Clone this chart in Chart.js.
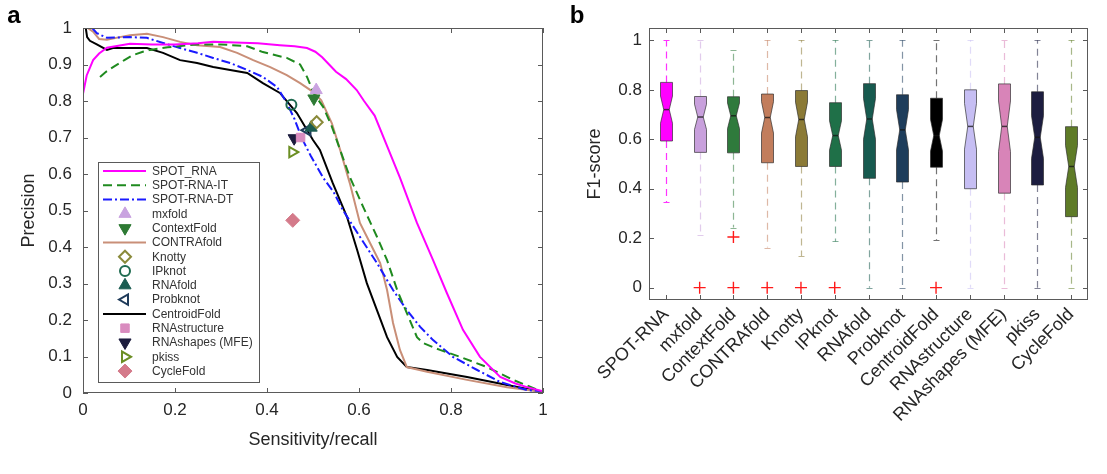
<!DOCTYPE html>
<html><head><meta charset="utf-8">
<script src="https://cdn.jsdelivr.net/npm/chart.js@4.4.0/dist/chart.umd.min.js"></script>
<style>
html,body{margin:0;padding:0;background:#fff;}
#wrap{position:relative;width:1107px;height:474px;overflow:hidden;}
#ca{position:absolute;left:0;top:0;width:560px;height:474px;}
#cb{position:absolute;left:560px;top:0;width:547px;height:474px;}
</style></head><body>
<div id="wrap"><canvas id="ca" width="560" height="474"></canvas><canvas id="cb" width="547" height="474"></canvas></div>
<script>
// ================= DATA: panel a (precision-recall) =================
const spotRnaRecall    = [0, 0.008, 0.022, 0.035, 0.052, 0.08, 0.102, 0.15, 0.2, 0.25, 0.283, 0.33, 0.38, 0.428, 0.46, 0.487, 0.505, 0.52, 0.535, 0.55, 0.572, 0.595, 0.611, 0.634, 0.66, 0.689, 0.726, 0.761, 0.791, 0.826, 0.863, 0.907, 0.94, 0.965, 1.0];
const spotRnaPrecision = [0.82, 0.87, 0.912, 0.93, 0.946, 0.952, 0.957, 0.955, 0.955, 0.958, 0.962, 0.96, 0.958, 0.953, 0.95, 0.945, 0.935, 0.92, 0.9, 0.88, 0.86, 0.83, 0.8, 0.76, 0.68, 0.59, 0.466, 0.364, 0.274, 0.173, 0.099, 0.044, 0.026, 0.016, 0.005];

const itRecall    = [0.037, 0.05, 0.068, 0.09, 0.107, 0.13, 0.146, 0.184, 0.246, 0.3, 0.357, 0.391, 0.443, 0.472, 0.487, 0.502, 0.522, 0.541, 0.559, 0.58, 0.609, 0.639, 0.661, 0.683, 0.704, 0.726, 0.739, 0.776, 0.82, 0.878, 0.935, 1.0];
const itPrecision = [0.866, 0.88, 0.895, 0.912, 0.925, 0.935, 0.94, 0.947, 0.955, 0.955, 0.95, 0.934, 0.918, 0.9, 0.866, 0.82, 0.784, 0.73, 0.666, 0.592, 0.51, 0.428, 0.364, 0.282, 0.219, 0.153, 0.137, 0.118, 0.099, 0.071, 0.036, 0.003];

const dtRecall    = [0.02, 0.03, 0.052, 0.102, 0.139, 0.174, 0.211, 0.248, 0.283, 0.32, 0.357, 0.391, 0.422, 0.443, 0.46, 0.475, 0.495, 0.522, 0.545, 0.565, 0.602, 0.639, 0.674, 0.704, 0.733, 0.761, 0.804, 0.857, 0.907, 0.965, 1.0];
const dtPrecision = [1.0, 0.986, 0.973, 0.975, 0.973, 0.959, 0.945, 0.932, 0.918, 0.904, 0.885, 0.866, 0.838, 0.795, 0.75, 0.7, 0.65, 0.59, 0.55, 0.501, 0.428, 0.356, 0.282, 0.227, 0.181, 0.145, 0.099, 0.063, 0.030, 0.008, 0.005];

const contraRecall    = [0.01, 0.022, 0.035, 0.052, 0.08, 0.102, 0.139, 0.174, 0.211, 0.248, 0.298, 0.335, 0.37, 0.407, 0.443, 0.472, 0.5, 0.518, 0.541, 0.559, 0.58, 0.602, 0.624, 0.646, 0.661, 0.674, 0.689, 0.704, 0.748, 0.835, 0.922, 1.0];
const contraPrecision = [1.0, 0.99, 0.97, 0.968, 0.975, 0.98, 0.984, 0.975, 0.962, 0.953, 0.948, 0.932, 0.912, 0.893, 0.871, 0.849, 0.825, 0.802, 0.739, 0.666, 0.575, 0.466, 0.411, 0.356, 0.282, 0.192, 0.118, 0.071, 0.058, 0.036, 0.016, 0.003];

const centroidRecall    = [0.006, 0.009, 0.015, 0.03, 0.052, 0.065, 0.102, 0.139, 0.174, 0.211, 0.248, 0.283, 0.32, 0.357, 0.391, 0.428, 0.465, 0.5, 0.515, 0.543, 0.574, 0.596, 0.617, 0.639, 0.661, 0.683, 0.704, 0.748, 0.835, 0.922, 1.0];
const centroidPrecision = [1.0, 0.975, 0.965, 0.955, 0.94, 0.945, 0.945, 0.945, 0.932, 0.912, 0.904, 0.893, 0.885, 0.877, 0.849, 0.822, 0.767, 0.693, 0.666, 0.575, 0.482, 0.392, 0.301, 0.227, 0.153, 0.099, 0.071, 0.063, 0.044, 0.022, 0.003];

const markerNames     = ['mxfold', 'ContextFold', 'Knotty', 'IPknot', 'RNAfold', 'Probknot', 'RNAstructure', 'RNAshapes (MFE)', 'pkiss', 'CycleFold'];
const markerRecall    = [0.507, 0.502, 0.508, 0.453, 0.496, 0.488, 0.473, 0.459, 0.455, 0.456];
const markerPrecision = [0.83, 0.807, 0.742, 0.79, 0.727, 0.72, 0.70, 0.698, 0.66, 0.473];

const legendOrder = ['SPOT_RNA', 'SPOT-RNA-IT', 'SPOT-RNA-DT', 'mxfold', 'ContextFold', 'CONTRAfold', 'Knotty', 'IPknot', 'RNAfold', 'Probknot', 'CentroidFold', 'RNAstructure', 'RNAshapes (MFE)', 'pkiss', 'CycleFold'];
const xTicksA = [0, 0.2, 0.4, 0.6, 0.8, 1];

// ================= DATA: panel b (F1 box plot) =================
const methods   = ['SPOT-RNA', 'mxfold', 'ContextFold', 'CONTRAfold', 'Knotty', 'IPknot', 'RNAfold', 'Probknot', 'CentroidFold', 'RNAstructure', 'RNAshapes (MFE)', 'pkiss', 'CycleFold'];
const q3        = [0.830, 0.773, 0.772, 0.783, 0.797, 0.748, 0.825, 0.780, 0.766, 0.800, 0.824, 0.792, 0.651];
const q1        = [0.593, 0.547, 0.545, 0.505, 0.490, 0.490, 0.442, 0.427, 0.487, 0.400, 0.382, 0.415, 0.287];
const medians   = [0.720, 0.690, 0.695, 0.688, 0.680, 0.615, 0.682, 0.638, 0.615, 0.652, 0.652, 0.608, 0.490];
const notchLo   = [0.665, 0.640, 0.643, 0.625, 0.610, 0.556, 0.600, 0.557, 0.552, 0.560, 0.550, 0.522, 0.405];
const notchHi   = [0.775, 0.742, 0.747, 0.752, 0.750, 0.675, 0.765, 0.720, 0.680, 0.745, 0.755, 0.695, 0.575];
const whiskerHi = [1.0, 1.0, 0.962, 1.0, 1.0, 1.0, 1.0, 1.0, 1.0, 1.0, 1.0, 1.0, 1.0];
const whiskerLo = [0.345, 0.212, 0.243, 0.162, 0.128, 0.187, 0, 0, 0.193, 0, 0, 0, 0];
const outlierMethod = ['mxfold', 'ContextFold', 'ContextFold', 'CONTRAfold', 'Knotty', 'IPknot', 'CentroidFold'];
const outlierValue  = [0, 0.205, 0, 0, 0, 0, 0];

// ================= STYLES =================
const FONT = "'Liberation Sans', Arial, Helvetica, sans-serif";
const INK = '#262626';
const FRAME = '#5a5a5a';
const curveStyle = {
  'SPOT_RNA':     {color: '#ff00ff', dash: []},
  'SPOT-RNA-IT':  {color: '#1f8a1f', dash: [9, 5]},
  'SPOT-RNA-DT':  {color: '#1a1aff', dash: [9, 3, 2, 3]},
  'CONTRAfold':   {color: '#c98f78', dash: []},
  'CentroidFold': {color: '#000000', dash: []}
};
const curveData = {
  'SPOT_RNA': [spotRnaRecall, spotRnaPrecision],
  'SPOT-RNA-IT': [itRecall, itPrecision],
  'SPOT-RNA-DT': [dtRecall, dtPrecision],
  'CONTRAfold': [contraRecall, contraPrecision],
  'CentroidFold': [centroidRecall, centroidPrecision]
};
const NONE = 'rgba(0,0,0,0)';
const markerStyle = {
  'mxfold':          {shape: 'triangle', rot: 0,   fill: '#c9a3e0', stroke: '#c9a3e0', r: 7, bw: 1},
  'ContextFold':     {shape: 'triangle', rot: 180, fill: '#2e7a34', stroke: '#2e7a34', r: 7, bw: 1},
  'Knotty':          {shape: 'rectRot',  rot: 0,   fill: NONE,      stroke: '#8a8a3a', r: 6, bw: 2},
  'IPknot':          {shape: 'circle',   rot: 0,   fill: NONE,      stroke: '#1f6b50', r: 5, bw: 2},
  'RNAfold':         {shape: 'triangle', rot: 0,   fill: '#1b5c52', stroke: '#1b5c52', r: 7, bw: 1},
  'Probknot':        {shape: 'triangle', rot: 270, fill: NONE,      stroke: '#1f3b5a', r: 6, bw: 2},
  'RNAstructure':    {shape: 'rect',     rot: 0,   fill: '#d98cbf', stroke: '#d98cbf', r: 6, bw: 1},
  'RNAshapes (MFE)': {shape: 'triangle', rot: 180, fill: '#1c1c3e', stroke: '#1c1c3e', r: 7, bw: 1},
  'pkiss':           {shape: 'triangle', rot: 90,  fill: NONE,      stroke: '#6b8e23', r: 6, bw: 2},
  'CycleFold':       {shape: 'rectRot',  rot: 0,   fill: '#d47a8a', stroke: '#d47a8a', r: 7, bw: 1}
};
const boxFill = ['#ff00ff', '#c8a0dc', '#2f7a3c', '#c27d5c', '#8b7a36', '#1f7048', '#175a4f', '#1e3d5b', '#000000', '#c6bef3', '#d884b8', '#1c1d40', '#5e7b27'];

function hexA(hex, a) {
  const n = parseInt(hex.slice(1), 16);
  return `rgba(${(n >> 16) & 255},${(n >> 8) & 255},${n & 255},${a})`;
}
const fmtTick = v => String(Number(Number(v).toFixed(2)));

// ================= shared plugins =================
function framePlugin(id) {
  return {
    id: id,
    afterDatasetsDraw(chart) {
      const {ctx, chartArea: a, scales} = chart;
      ctx.save();
      ctx.strokeStyle = FRAME; ctx.lineWidth = 1; ctx.setLineDash([]);
      ctx.strokeRect(Math.round(a.left) + 0.5, Math.round(a.top) + 0.5, Math.round(a.right - a.left) - 1, Math.round(a.bottom - a.top) - 1);
      const L = 5;
      ctx.beginPath();
      const xs = scales.x, ys = scales.y;
      xs.ticks.forEach((t, i) => {
        const p = Math.round(xs.getPixelForTick(i)) + 0.5;
        ctx.moveTo(p, a.bottom); ctx.lineTo(p, a.bottom - L);
        ctx.moveTo(p, a.top); ctx.lineTo(p, a.top + L);
      });
      ys.ticks.forEach((t, i) => {
        const p = Math.round(ys.getPixelForTick(i)) + 0.5;
        ctx.moveTo(a.left, p); ctx.lineTo(a.left + L, p);
        ctx.moveTo(a.right, p); ctx.lineTo(a.right - L, p);
      });
      ctx.stroke();
      ctx.restore();
    }
  };
}
function panelLabel(id, text, x, y) {
  return {
    id: id,
    afterDraw(chart) {
      const ctx = chart.ctx;
      ctx.save();
      ctx.font = 'bold 24px ' + FONT;
      ctx.fillStyle = '#000';
      ctx.textAlign = 'center'; ctx.textBaseline = 'middle';
      ctx.fillText(text, x, y);
      ctx.restore();
    }
  };
}

// ================= panel a =================
const datasetsA = legendOrder.map(name => {
  if (curveData[name]) {
    const [xs, ys] = curveData[name];
    const st = curveStyle[name];
    return {
      label: name, kind: 'line', showLine: true,
      data: xs.map((x, i) => ({x: x, y: ys[i]})),
      borderColor: st.color, backgroundColor: st.color, borderDash: st.dash,
      borderWidth: 2, pointRadius: 0, tension: 0, order: 2
    };
  }
  const k = markerNames.indexOf(name);
  const st = markerStyle[name];
  return {
    label: name, kind: 'point', showLine: false,
    data: [{x: markerRecall[k], y: markerPrecision[k]}],
    pointStyle: st.shape, rotation: st.rot, pointRotation: st.rot, pointRadius: st.r,
    backgroundColor: st.fill, borderColor: st.stroke, borderWidth: st.bw, order: 1
  };
});

const legendA = {
  id: 'legendA',
  afterDraw(chart) {
    const {ctx, chartArea: a} = chart;
    const left = a.left + 15, top = a.top + 134, w = 161, h = 220;
    ctx.save();
    ctx.fillStyle = '#fff';
    ctx.fillRect(left, top, w, h);
    ctx.strokeStyle = FRAME; ctx.lineWidth = 1;
    ctx.strokeRect(Math.round(left) + 0.5, Math.round(top) + 0.5, w, h);
    ctx.font = '12px ' + FONT;
    ctx.textBaseline = 'middle'; ctx.textAlign = 'left';
    chart.data.datasets.forEach((ds, i) => {
      const y = top + 9 + i * 14.29;
      if (ds.kind === 'line') {
        ctx.save();
        ctx.strokeStyle = ds.borderColor; ctx.lineWidth = 2; ctx.setLineDash(ds.borderDash || []);
        ctx.beginPath(); ctx.moveTo(left + 5, y); ctx.lineTo(left + 48, y); ctx.stroke();
        ctx.restore();
      } else {
        ctx.save();
        ctx.fillStyle = ds.backgroundColor; ctx.strokeStyle = ds.borderColor; ctx.lineWidth = ds.borderWidth;
        Chart.helpers.drawPoint(ctx, {pointStyle: ds.pointStyle, rotation: ds.pointRotation, radius: ds.pointRadius, borderWidth: ds.borderWidth}, left + 27, y);
        ctx.restore();
      }
      ctx.fillStyle = '#333';
      ctx.fillText(ds.label, left + 54, y + 0.5);
    });
    ctx.restore();
  }
};

new Chart(document.getElementById('ca'), {
  type: 'scatter',
  data: {datasets: datasetsA},
  options: {
    responsive: false, animation: false, devicePixelRatio: 1,
    layout: {padding: {left: 0, top: 28, right: 17, bottom: 0}},
    plugins: {legend: {display: false}, tooltip: {enabled: false}},
    scales: {
      x: {
        type: 'linear', min: 0, max: 1,
        afterBuildTicks: s => { s.ticks = xTicksA.map(v => ({value: v})); },
        afterFit: s => { s.height = 81; },
        grid: {display: false, drawTicks: false}, border: {display: false},
        ticks: {padding: 7, color: INK, font: {family: FONT, size: 17}, callback: fmtTick},
        title: {display: true, text: 'Sensitivity/recall', color: INK, font: {family: FONT, size: 18}, padding: {top: 0, bottom: 23}}
      },
      y: {
        type: 'linear', min: 0, max: 1,
        ticks: {stepSize: 0.1, padding: 11, color: INK, font: {family: FONT, size: 17}, callback: fmtTick},
        afterFit: s => { s.width = 83; },
        grid: {display: false, drawTicks: false}, border: {display: false},
        title: {display: true, text: 'Precision', color: INK, font: {family: FONT, size: 18}, padding: {top: 18, bottom: 0}}
      }
    }
  },
  plugins: [framePlugin('frameA'), legendA, panelLabel('labA', 'a', 14, 16)]
});

// ================= panel b =================
const boxPlugin = {
  id: 'notchBoxes',
  beforeDatasetsDraw(chart) {
    const ctx = chart.ctx, ys = chart.scales.y;
    const meta = chart.getDatasetMeta(0);
    const py = v => ys.getPixelForValue(v);
    meta.data.forEach((bar, i) => {
      const cx = Math.round(bar.x) + 0.5, w = bar.width, hw = w / 2, ins = w * 0.27;
      const col = boxFill[i];
      const wc = i === 0 ? '#ff33ff' : hexA(col, 0.55);
      ctx.save();
      // whiskers
      ctx.strokeStyle = wc; ctx.lineWidth = 1.2; ctx.setLineDash([7, 5]);
      ctx.beginPath();
      ctx.moveTo(cx, py(q3[i])); ctx.lineTo(cx, py(whiskerHi[i]));
      ctx.moveTo(cx, py(q1[i])); ctx.lineTo(cx, py(whiskerLo[i]));
      ctx.stroke();
      ctx.setLineDash([]);
      ctx.beginPath();
      [whiskerHi[i], whiskerLo[i]].forEach(v => { const p = Math.round(py(v)) + 0.5; ctx.moveTo(cx - 3, p); ctx.lineTo(cx + 3, p); });
      ctx.stroke();
      // notched box
      const L = cx - hw, R = cx + hw;
      ctx.beginPath();
      ctx.moveTo(L, py(q3[i]));
      ctx.lineTo(R, py(q3[i]));
      ctx.lineTo(R, py(notchHi[i]));
      ctx.lineTo(R - ins, py(medians[i]));
      ctx.lineTo(R, py(notchLo[i]));
      ctx.lineTo(R, py(q1[i]));
      ctx.lineTo(L, py(q1[i]));
      ctx.lineTo(L, py(notchLo[i]));
      ctx.lineTo(L + ins, py(medians[i]));
      ctx.lineTo(L, py(notchHi[i]));
      ctx.closePath();
      ctx.fillStyle = col; ctx.fill();
      ctx.strokeStyle = 'rgba(40,40,40,0.65)'; ctx.lineWidth = 1; ctx.stroke();
      // median
      ctx.beginPath();
      ctx.strokeStyle = 'rgba(20,20,20,0.75)'; ctx.lineWidth = 1.5;
      ctx.moveTo(L + ins, py(medians[i])); ctx.lineTo(R - ins, py(medians[i]));
      ctx.stroke();
      ctx.restore();
    });
  }
};

new Chart(document.getElementById('cb'), {
  type: 'bar',
  data: {
    labels: methods,
    datasets: [
      {label: 'IQR', data: q1.map((v, i) => [v, q3[i]]), backgroundColor: NONE, borderWidth: 0, barThickness: 12, order: 2},
      {type: 'line', label: 'outliers', showLine: false,
       data: outlierMethod.map((m, i) => ({x: m, y: outlierValue[i]})),
       pointStyle: 'cross', pointRadius: 6, borderColor: '#ff1a1a', backgroundColor: '#ff1a1a', borderWidth: 1.4, order: 1}
    ]
  },
  options: {
    responsive: false, animation: false, devicePixelRatio: 1,
    layout: {padding: {left: 0, top: 28, right: 19, bottom: 0}},
    plugins: {legend: {display: false}, tooltip: {enabled: false}},
    scales: {
      x: {
        type: 'category', offset: true,
        afterFit: s => { s.height = 174; },
        grid: {display: false, drawTicks: false}, border: {display: false},
        ticks: {autoSkip: false, minRotation: 45, maxRotation: 45, padding: 4, color: INK, font: {family: FONT, size: 18}}
      },
      y: {
        type: 'linear', min: -0.05, max: 1.05,
        ticks: {stepSize: 0.2, includeBounds: false, padding: 7, color: INK, font: {family: FONT, size: 17}, callback: fmtTick},
        afterFit: s => { s.width = 89; },
        grid: {display: false, drawTicks: false}, border: {display: false},
        title: {display: true, text: 'F1-score', color: INK, font: {family: FONT, size: 18}, padding: {top: 24, bottom: 0}}
      }
    }
  },
  plugins: [boxPlugin, framePlugin('frameB'), panelLabel('labB', 'b', 17, 16)]
});
</script>
</body></html>
